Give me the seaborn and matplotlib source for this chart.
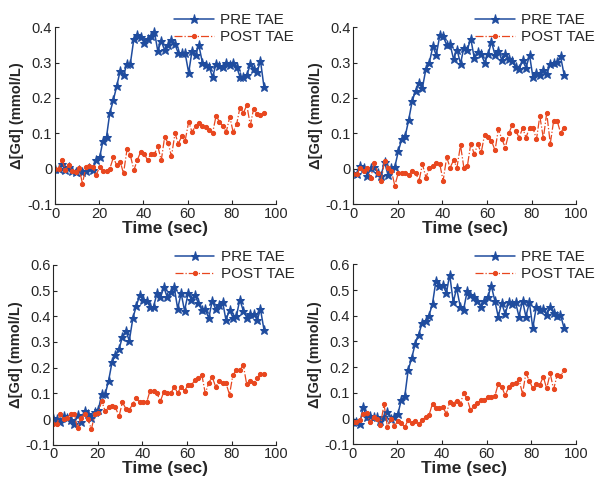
import numpy as np
import pandas as pd
import matplotlib
matplotlib.use('Agg')
import matplotlib.pyplot as plt
from matplotlib.ticker import FuncFormatter
import seaborn as sns

# sample times (sec)
TIME = [0.0, 1.6, 3.1, 4.7, 6.2, 7.8, 9.3, 10.9, 12.4, 14.0, 15.5, 17.1, 18.6, 20.2, 21.7, 23.3,
        24.8, 26.4, 27.9, 29.5, 31.0, 32.6, 34.1, 35.7, 37.2, 38.8, 40.3, 41.9, 43.4, 45.0, 46.5, 48.1,
        49.6, 51.2, 52.7, 54.3, 55.8, 57.4, 58.9, 60.5, 62.0, 63.6, 65.1, 66.7, 68.2, 69.8, 71.3, 72.9,
        74.4, 76.0, 77.5, 79.1, 80.6, 82.2, 83.7, 85.3, 86.8, 88.4, 89.9, 91.5, 93.0, 94.6]

# top-left
PRE_1 = [0.0, 0.0, 0.013, -0.004, 0.005, -0.006, -0.008, -0.004, -0.009, -0.006, 0.001, -0.004,
         0.024, 0.032, 0.079, 0.09, 0.158, 0.194, 0.233, 0.277, 0.264, 0.297, 0.297, 0.368, 0.377, 0.371,
         0.356, 0.368, 0.375, 0.387, 0.333,
         0.361, 0.335, 0.349, 0.363, 0.352, 0.326, 0.327, 0.326, 0.271, 0.333, 0.321, 0.349, 0.30, 0.293,
         0.288, 0.258, 0.297, 0.29, 0.288, 0.299, 0.293, 0.299, 0.288, 0.26, 0.258, 0.264, 0.295, 0.283,
         0.274, 0.305, 0.23]
POST_1 = [0.0, 0.0, 0.026, -0.004, 0.01, -0.006, -0.009, 0.003, -0.042, 0.005, 0.007, 0.005,
          -0.018, 0.005, -0.006, -0.006, 0.0, 0.032, 0.01, 0.02, -0.013, 0.055, 0.038, -0.004, 0.024,
          0.048, 0.043, 0.024, 0.043, 0.041, 0.064,
          0.024, 0.089, 0.073, 0.035, 0.10, 0.071, 0.092, 0.079, 0.133, 0.104, 0.12, 0.128, 0.12, 0.117,
          0.11, 0.10, 0.15, 0.133, 0.12, 0.104, 0.147, 0.104, 0.126, 0.173, 0.158, 0.18, 0.123, 0.17,
          0.154, 0.151, 0.158]

# top-right
PRE_2 = [-0.011, -0.014, 0.008, 0.003, -0.02, 0.003, 0.005, -0.011, -0.02, 0.02, -0.017, 0.003,
         0.005, 0.05, 0.083, 0.093, 0.137, 0.191, 0.22, 0.243, 0.229, 0.283, 0.30, 0.346, 0.321, 0.377,
         0.375, 0.349, 0.352, 0.309, 0.337, 0.297,
         0.342, 0.337, 0.368, 0.312, 0.33, 0.323, 0.30, 0.323, 0.359, 0.321, 0.334, 0.306, 0.323, 0.309,
         0.304, 0.287, 0.281, 0.306, 0.285, 0.321, 0.259, 0.27, 0.264, 0.278, 0.268, 0.295, 0.30, 0.302,
         0.318, 0.266]
POST_2 = [-0.015, -0.015, 0.003, -0.006, 0.003, -0.027, 0.017, -0.011, -0.036, 0.022, 0.003, -0.006,
          -0.048, -0.011, -0.011, -0.011, -0.017, -0.006, -0.011, -0.034, 0.013, -0.025, 0.003, 0.008,
          0.015, 0.013, -0.034, 0.033, 0.003, 0.024, 0.003, 0.067,
          0.003, 0.008, 0.071, 0.041, 0.069, 0.046, 0.096, 0.09, 0.079, 0.052, 0.112, 0.083, 0.06, 0.10,
          0.124, 0.107, 0.088, 0.115, 0.088, 0.116, 0.116, 0.083, 0.149, 0.086, 0.158, 0.071, 0.135,
          0.135, 0.102, 0.116]

# bottom-left
PRE_3 = [0.005, 0.0, -0.01, 0.01, 0.005, -0.005, -0.02, 0.015, -0.01, 0.03, 0.02, 0.005,
         0.028, 0.035, 0.097, 0.097, 0.149, 0.223, 0.249, 0.271, 0.32, 0.343, 0.304, 0.392, 0.439, 0.482,
         0.465, 0.46, 0.437, 0.437, 0.489, 0.473,
         0.512, 0.473, 0.495, 0.512, 0.43, 0.489, 0.421, 0.489, 0.465, 0.482, 0.45, 0.424, 0.427, 0.392,
         0.46, 0.427, 0.443, 0.456, 0.385, 0.424, 0.395, 0.40, 0.465, 0.421, 0.395, 0.408, 0.41, 0.385,
         0.427, 0.346]
POST_3 = [-0.02, -0.02, 0.02, 0.0, 0.005, 0.02, 0.02, -0.035, 0.005, 0.02, 0.0, -0.04,
          0.02, 0.025, 0.07, 0.03, 0.045, 0.05, 0.045, 0.01, 0.065, 0.04, 0.035, 0.06, 0.08, 0.065,
          0.065, 0.065, 0.11, 0.11, 0.10, 0.07,
          0.106, 0.10, 0.10, 0.125, 0.102, 0.125, 0.11, 0.132, 0.132, 0.152, 0.158, 0.171, 0.10, 0.141,
          0.164, 0.125, 0.149, 0.14, 0.139, 0.095, 0.171, 0.19, 0.19, 0.21, 0.135, 0.149, 0.141, 0.158,
          0.175, 0.175]

# bottom-right
PRE_4 = [-0.013, -0.013, -0.022, 0.046, 0.004, 0.009, 0.007, 0.004, -0.009, 0.007, 0.026, 0.0, 0.007, 0.017,
         0.072, 0.087, 0.189, 0.235, 0.29, 0.326, 0.371, 0.381, 0.40, 0.447, 0.534, 0.514, 0.521, 0.488,
         0.56, 0.452, 0.508, 0.436,
         0.423, 0.495, 0.482, 0.473, 0.456, 0.436, 0.459, 0.473, 0.517, 0.459, 0.397, 0.449, 0.407, 0.452,
         0.447, 0.452, 0.397, 0.459, 0.397, 0.452, 0.352, 0.436, 0.423, 0.425, 0.404, 0.434, 0.41, 0.40,
         0.404, 0.352]
POST_4 = [-0.013, -0.013, -0.004, 0.017, 0.022, -0.015, 0.007, 0.0, -0.025, 0.056, -0.033, -0.003,
          -0.03, -0.009, -0.019, -0.033, -0.006, -0.019, -0.009, -0.022, -0.006, 0.005, 0.012, 0.058,
          0.04, 0.04, 0.045, 0.018, 0.065, 0.058, 0.07, 0.055,
          0.098, 0.078, 0.033, 0.048, 0.059, 0.072, 0.074, 0.082, 0.085, 0.087, 0.134, 0.124, 0.09, 0.121,
          0.134, 0.137, 0.153, 0.096, 0.176, 0.147, 0.117, 0.134, 0.13, 0.163, 0.117, 0.176, 0.113, 0.169,
          0.165, 0.189]

YMAX = [0.4, 0.4, 0.6, 0.6]

BLUE = '#1f4c9e'
RED = '#e8471f'

sns.set_style('ticks')
plt.rcParams['font.family'] = ['Liberation Sans', 'DejaVu Sans']

fig = plt.figure(figsize=(6.02, 4.86), dpi=100)
rects = [[0.0914, 0.580, 0.367, 0.364],
         [0.587, 0.580, 0.370, 0.364],
         [0.0886, 0.085, 0.370, 0.370],
         [0.586, 0.086, 0.371, 0.370]]

fmt = FuncFormatter(lambda v, p: '0' if abs(v) < 1e-9 else f'{v:g}')

for k, (pre, post) in enumerate([(PRE_1, POST_1), (PRE_2, POST_2), (PRE_3, POST_3), (PRE_4, POST_4)]):
    ax = fig.add_axes(rects[k])
    df = pd.DataFrame({'t': TIME, 'pre': pre, 'post': post})
    sns.lineplot(data=df, x='t', y='pre', ax=ax, color=BLUE, marker='*', markersize=6.5,
                 markeredgecolor=BLUE, linewidth=1.1, label='PRE TAE')
    sns.lineplot(data=df, x='t', y='post', ax=ax, color=RED, marker='o', markersize=3,
                 markeredgecolor=RED, linewidth=0.9, linestyle='-.', label='POST TAE')
    ax.set_xlim(0, 100)
    ax.set_ylim(-0.1, YMAX[k])
    ax.set_xticks([0, 20, 40, 60, 80, 100])
    ax.set_yticks(np.arange(-0.1, YMAX[k] + 0.01, 0.1))
    ax.yaxis.set_major_formatter(fmt)
    ax.tick_params(direction='in', length=3, labelsize=10.5, pad=2)
    sns.despine(ax=ax)
    ax.set_xlabel('Time (sec)', fontsize=12.5, fontweight='bold', labelpad=0)
    ax.set_ylabel('Δ[Gd] (mmol/L)', fontsize=10.5, fontweight='bold', labelpad=2)
    ax.legend(loc='upper right', bbox_to_anchor=(1.13, 1.14), frameon=False, fontsize=11,
              handlelength=2.6, borderpad=0.2, labelspacing=0.2, handletextpad=0.4)

fig.savefig('out.png', dpi=100)
